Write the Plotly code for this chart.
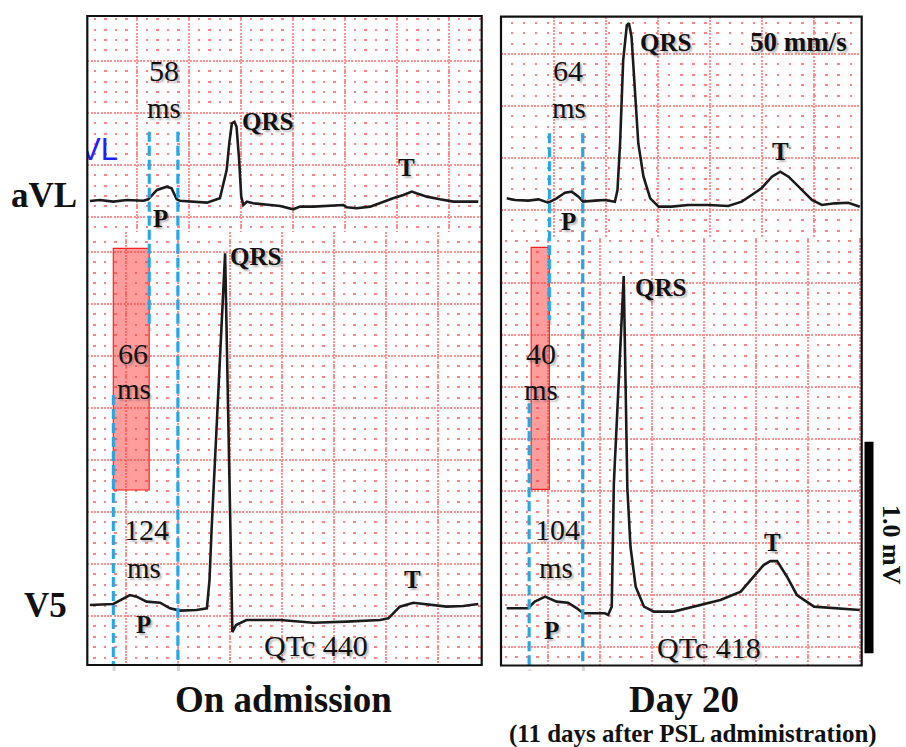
import plotly.graph_objects as go

W, H = 906, 747
PXMM = 10.4          # pixels per mm of ECG paper
MS_PER_MM = 20.0     # 50 mm/s
MV_PER_MM = 0.05     # 20 mm/mV

# ---------------- data (time in ms, amplitude in mV) ----------------
# On admission, aVL
adm_avl_t = [5, 24, 50, 76, 108, 117, 134, 153, 162, 172, 178, 204, 230, 255, 262,
             268, 273, 278, 283, 287, 292, 296, 300, 307, 319, 345, 371, 396, 409, 435,
             460, 492, 499, 518, 544, 569, 588, 608, 624, 633, 653, 678, 704, 730, 752]
adm_avl_v = [0.000, 0.005, -0.003, 0.005, 0.001, 0.008, 0.053, 0.069, 0.061, 0.008,
             0.001, -0.003, -0.008, 0.013, 0.085, 0.149, 0.277, 0.374, 0.381, 0.357,
             0.197, 0.021, -0.019, -0.003, -0.011, -0.019, -0.024, -0.040, -0.027, -0.027,
             -0.024, -0.019, -0.030, -0.035, -0.027, -0.003, 0.013, 0.029, 0.045, 0.037,
             0.021, 0.008, -0.003, -0.003, -0.003]
# On admission, V5
adm_v5_t = [5, 50, 82, 95, 114, 140, 159, 178, 210, 230, 235, 239, 265, 279, 286,
            306, 371, 435, 499, 563, 579, 601, 627, 659, 691, 723, 752]
adm_v5_v = [0.000, 0.005, 0.048, 0.040, 0.016, 0.011, -0.016, -0.027, -0.024, -0.016,
            0.120, 0.361, 1.691, -0.130, -0.096, -0.072, -0.072, -0.085, -0.080, -0.072,
            -0.064, -0.008, 0.011, 0.000, -0.008, -0.005, 0.005]
# Day 20, aVL
d20_avl_t = [11, 27, 52, 72, 91, 107, 123, 136, 149, 158, 181, 200, 219, 224, 229,
             235, 242, 246, 251, 258, 264, 274, 287, 303, 328, 360, 399, 437, 463, 482,
             501, 521, 537, 553, 572, 598, 617, 642, 668, 690]
d20_avl_v = [0.008, 0.000, -0.003, 0.003, -0.013, 0.008, 0.035, 0.040, 0.016, -0.008,
             -0.003, 0.000, -0.008, 0.048, 0.273, 0.673, 0.841, 0.850, 0.785, 0.513,
             0.273, 0.112, 0.008, -0.032, -0.032, -0.024, -0.024, -0.029, -0.008, 0.024,
             0.056, 0.112, 0.136, 0.112, 0.064, 0.000, -0.024, -0.016, -0.013, -0.032]
# Day 20, V5
d20_v5_t = [11, 52, 65, 85, 107, 129, 146, 158, 200, 206, 213, 217, 236, 243, 249,
            259, 275, 294, 332, 371, 422, 461, 480, 505, 518, 531, 550, 569, 602, 642, 690]
d20_v5_v = [0.000, 0.000, 0.032, 0.056, 0.032, 0.027, 0.000, -0.024, -0.024, -0.032,
            0.008, 0.597, 1.597, 0.578, 0.296, 0.104, 0.008, -0.016, -0.016, 0.008,
            0.040, 0.080, 0.136, 0.208, 0.227, 0.227, 0.152, 0.064, 0.008, 0.000, -0.008]

# measurement markers (ms, in each strip's time base)
adm_avl_p = [119, 174]      # P wave in aVL (58 ms)
adm_v5_p = [50, 174]        # P wave in V5 (124 ms)
adm_box = [50, 119]         # difference (66 ms)
d20_avl_p = [93, 157]       # 64 ms
d20_v5_p = [54, 157]        # 104 ms
d20_box = [58, 93]          # 40 ms

# ---------------- layout geometry (pixels) ----------------
STRIPS = {
    "LU": dict(box=(87.3, 481.7, 16.0, 232.0), gx=136.7, gy=216.7, base=201.0),
    "LL": dict(box=(87.3, 481.7, 232.0, 665.0), gx=125.8, gy=616.0, base=605.0),
    "RU": dict(box=(501.0, 861.7, 16.7, 238.0), gx=553.5, gy=210.0, base=200.0),
    "RL": dict(box=(501.0, 861.7, 238.0, 665.0), gx=547.7, gy=647.0, base=608.3),
}
ORDER = ["LU", "LL", "RU", "RL"]
GRID_MIN = "rgb(255,130,130)"
GRID_MAJ = "rgb(255,145,145)"
DOT = 2.4

def fx(px):
    return px / W

def fy(py):
    return 1 - py / H

def dot_dash(offset_px):
    off = offset_px - DOT / 2
    while off < 0:
        off += PXMM
    while off >= PXMM:
        off -= PXMM
    rest = max(PXMM - DOT - off, 0)
    return f"0px,{off:.2f}px,{DOT}px,{rest:.2f}px"

fig = go.Figure()
layout_axes = {}
for i, key in enumerate(ORDER, start=1):
    s = STRIPS[key]
    x0, x1, y0, y1 = s["box"]
    xr = [0, (x1 - x0) / PXMM * MS_PER_MM]
    yr = [(s["base"] - y1) / PXMM * MV_PER_MM, (s["base"] - y0) / PXMM * MV_PER_MM]
    t0x = (s["gx"] - x0) / PXMM * MS_PER_MM
    t0y = (s["base"] - s["gy"]) / PXMM * MV_PER_MM
    col_off = (t0x % MS_PER_MM) / MS_PER_MM * PXMM
    sfx = "" if i == 1 else str(i)
    common = dict(showticklabels=False, ticks="", zeroline=False, showline=False,
                  fixedrange=True, layer="below traces")
    layout_axes["xaxis" + sfx] = dict(
        domain=[fx(x0), fx(x1)], range=xr, anchor="y" + sfx,
        dtick=100, tick0=t0x, showgrid=True, gridcolor=GRID_MAJ, gridwidth=1.8,
        griddash="2px,1.3px", **common)
    layout_axes["yaxis" + sfx] = dict(
        domain=[fy(y1), fy(y0)], range=yr, anchor="x" + sfx,
        dtick=0.25, tick0=t0y, showgrid=True, gridcolor=GRID_MAJ, gridwidth=1.8,
        griddash="2px,1.3px",
        minor=dict(dtick=MV_PER_MM, tick0=t0y, showgrid=True, gridcolor=GRID_MIN,
                   gridwidth=DOT, griddash=dot_dash(col_off)),
        **common)

fig.update_layout(**layout_axes)

traces = [("LU", adm_avl_t, adm_avl_v), ("LL", adm_v5_t, adm_v5_v),
          ("RU", d20_avl_t, d20_avl_v), ("RL", d20_v5_t, d20_v5_v)]
for key, t, v in traces:
    i = ORDER.index(key) + 1
    sfx = "" if i == 1 else str(i)
    fig.add_trace(go.Scatter(x=t, y=v, mode="lines", xaxis="x" + sfx, yaxis="y" + sfx,
                             line=dict(color="#1b1b1b", width=2.6), showlegend=False,
                             hoverinfo="skip"))

# clipped blue lead label in top-left strip
fig.add_trace(go.Scatter(x=[59], y=[0.236], mode="text", text=["aVL"],
                         textposition="middle left", cliponaxis=True,
                         textfont=dict(family="Liberation Sans, Arial", size=31, color="#1f1fff"),
                         xaxis="x", yaxis="y", showlegend=False, hoverinfo="skip"))

shapes = []
BLUE = "#27a6e6"
def vline(xref, xv, py0, py1):
    shapes.append(dict(type="line", xref=xref, yref="paper", x0=xv + 1.5, x1=xv + 1.5,
                       y0=fy(py0), y1=fy(py1 + 6), line=dict(color="rgba(120,120,120,0.3)", width=3, dash="10px,4px"),
                       layer="above"))
    shapes.append(dict(type="line", xref=xref, yref="paper", x0=xv, x1=xv,
                       y0=fy(py0), y1=fy(py1), line=dict(color=BLUE, width=3, dash="10px,4px"),
                       layer="above"))

def box(xref, xs, py0, py1):
    shapes.append(dict(type="rect", xref=xref, yref="paper", x0=xs[0], x1=xs[1],
                       y0=fy(py0), y1=fy(py1), fillcolor="rgba(255,60,60,0.5)",
                       line=dict(color="#ff2020", width=1.2), layer="above"))

box("x2", adm_box, 248.3, 490)
box("x4", d20_box, 247.3, 489.3)
vline("x", adm_avl_p[0], 131.7, 325)
vline("x", adm_avl_p[1], 131.7, 665)
vline("x2", adm_v5_p[0], 395, 665)
vline("x3", d20_avl_p[0], 133.3, 320)
vline("x3", d20_avl_p[1], 133.3, 665)
vline("x4", d20_v5_p[0], 403.3, 665)

# panel frames
for (x0, x1, y0, y1) in [(87.3, 481.7, 16.0, 665.0), (501.0, 861.7, 16.7, 665.5)]:
    shapes.append(dict(type="rect", xref="paper", yref="paper", x0=fx(x0), x1=fx(x1),
                       y0=fy(y1), y1=fy(y0), line=dict(color="#111", width=2.2),
                       fillcolor="rgba(0,0,0,0)", layer="above"))
# 1.0 mV calibration bar
shapes.append(dict(type="rect", xref="paper", yref="paper", x0=fx(864.5), x1=fx(873.5),
                   y0=fy(653.3), y1=fy(441.7), fillcolor="black", line=dict(width=0),
                   layer="above"))
fig.update_layout(shapes=shapes)

SERIF = "Liberation Serif, Times New Roman, serif"
SHADOW = "2px 2px 2px rgba(90,90,90,0.45)"
anns = []
def ann(text, px, py, size, bold=False, angle=0, shadow=True):
    t = f"<b>{text}</b>" if bold else text
    font = dict(family=SERIF, size=size, color="#111")
    if shadow:
        font["shadow"] = SHADOW
    anns.append(dict(text=t, x=fx(px), y=fy(py), xref="paper", yref="paper",
                     showarrow=False, xanchor="center", yanchor="middle", textangle=angle,
                     font=font))

# interval labels
ann("58", 163.7, 70, 30); ann("ms", 164, 108, 29)
ann("66", 132.5, 353, 30); ann("ms", 133.7, 389, 29)
ann("124", 146.7, 529, 30); ann("ms", 144, 568, 29)
ann("QTc 440", 316, 645, 30)
ann("64", 567.5, 70, 30); ann("ms", 569, 108, 29)
ann("40", 540.5, 353, 30); ann("ms", 541.3, 390, 29)
ann("104", 557.2, 529, 30); ann("ms", 555.8, 568, 29)
ann("QTc 418", 709.2, 647, 30)
# wave labels
ann("QRS", 267.5, 121, 25, True); ann("T", 406.7, 167, 25, True); ann("P", 160, 218.5, 25, True)
ann("QRS", 255, 256, 25, True); ann("T", 412.5, 579, 25, True); ann("P", 143.3, 624, 25, True)
ann("QRS", 665, 42, 25, True); ann("50 mm/s", 798.3, 42, 27, True)
ann("T", 780, 152, 25, True); ann("P", 568.3, 222, 25, True)
ann("QRS", 660, 287, 25, True); ann("T", 772.5, 542, 25, True); ann("P", 551.7, 630, 25, True)
# lead / panel labels
ann("aVL", 44, 196, 35, True, shadow=False)
ann("V5", 45, 605, 35, True, shadow=False)
ann("On admission", 283.3, 699, 37, True, shadow=False)
ann("Day 20", 684, 699, 37, True, shadow=False)
ann("(11 days after PSL administration)", 693, 734, 25, True, shadow=False)
ann("1.0 mV", 892, 545, 26, True, angle=90, shadow=False)
fig.update_layout(annotations=anns)

fig.update_layout(width=W, height=H, margin=dict(l=0, r=0, t=0, b=0),
                  paper_bgcolor="white", plot_bgcolor="white", showlegend=False)
fig.write_html("out.html", config={"displayModeBar": False},
               post_script="document.body.style.margin='0';document.body.style.overflow='hidden';")
